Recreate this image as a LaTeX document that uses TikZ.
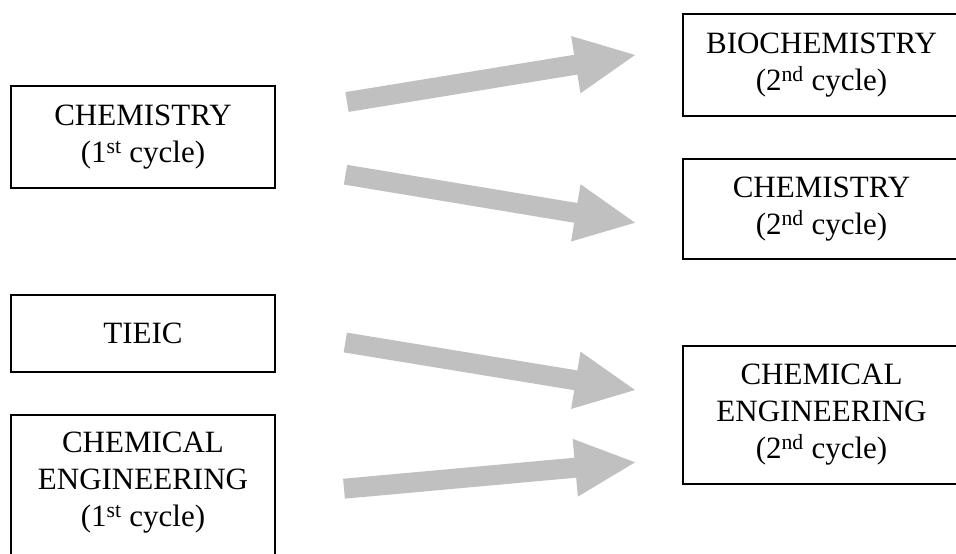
\documentclass[tikz,border=0pt]{standalone}
\usepackage{fontspec}
\setmainfont{Liberation Serif}
\usetikzlibrary{calc}
\definecolor{arrowgray}{RGB}{192,192,192}
\tikzset{
  box/.style={draw=black, line width=2pt, inner sep=0pt, align=center,
    font=\fontsize{31}{37}\selectfont},
  leftbox/.style={box, minimum width=264pt},
  rightbox/.style={box, minimum width=277pt},
  lbl/.style={inner sep=0pt, align=center, font=\fontsize{31}{37}\selectfont},
  blockarrow/.style={fill=arrowgray, draw=none}
}
\newcommand\blockarr[2]{%
  \coordinate (#1h) at ($(#2)!60pt!(#1)$);
  \fill[blockarrow] ($(#1)!10pt!90:(#2)$) -- ($(#1h)!10pt!90:(#2)$)
    -- ($(#1h)!29pt!90:(#2)$) -- (#2) -- ($(#1h)!29pt!-90:(#2)$)
    -- ($(#1h)!10pt!-90:(#2)$) -- ($(#1)!10pt!-90:(#2)$) -- cycle;
}
\begin{document}
\begin{tikzpicture}[x=1pt,y=-1pt]
\clip (0,0) rectangle (956,554);
\fill[white] (0,0) rectangle (956,554);
% left column
\node[leftbox, minimum height=102pt] (chem1) at (143,137) {CHEMISTRY\\(1\textsuperscript{st} cycle)};
\node[leftbox, minimum height=77pt] (tieic) at (143,333.5) {TIEIC};
\node[leftbox, minimum height=145pt] (cheng1) at (143,487.5) {};
\node[lbl] (cheng1t) at (143,483) {CHEMICAL\\ENGINEERING\\(1\textsuperscript{st} cycle)};
% right column
\node[rightbox, minimum height=102pt] (bio2) at (821.5,65) {BIOCHEMISTRY\\(2\textsuperscript{nd} cycle)};
\node[rightbox, minimum height=100pt] (chem2) at (821.5,209) {CHEMISTRY\\(2\textsuperscript{nd} cycle)};
\node[rightbox, minimum height=138pt] (cheng2) at (821.5,415) {CHEMICAL\\ENGINEERING\\(2\textsuperscript{nd} cycle)};
% arrows
\coordinate (a1s) at (347,102);   \coordinate (a1e) at (635,55);
\coordinate (a2s) at (345.5,174.7); \coordinate (a2e) at (635,222.7);
\coordinate (a3s) at (345.3,342.5); \coordinate (a3e) at (635,390);
\coordinate (a4s) at (344,488.7); \coordinate (a4e) at (635,462.3);
\blockarr{a1s}{a1e}
\blockarr{a2s}{a2e}
\blockarr{a3s}{a3e}
\blockarr{a4s}{a4e}
\end{tikzpicture}
\end{document}
